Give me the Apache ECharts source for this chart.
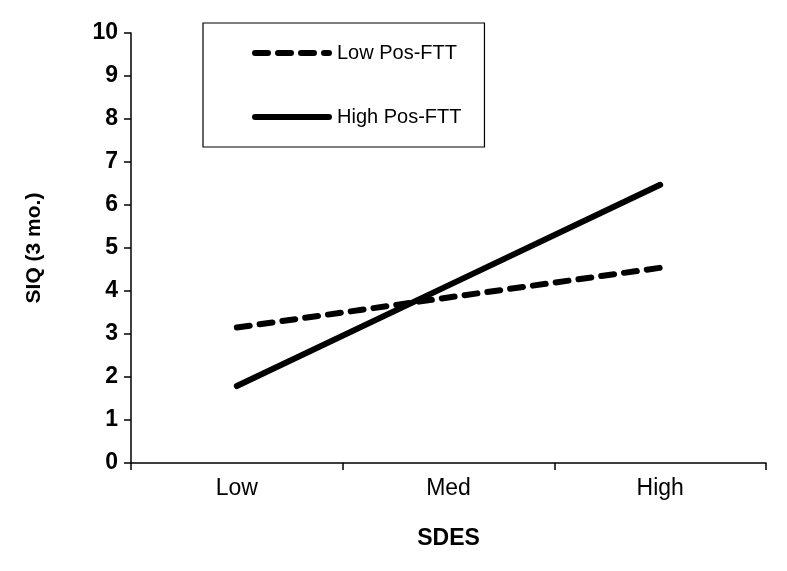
<!DOCTYPE html>
<html>
<head>
<meta charset="utf-8">
<script src="https://cdn.jsdelivr.net/npm/echarts@6/dist/echarts.min.js"></script>
<style>html,body{margin:0;padding:0;background:#fff}#c{width:787px;height:571px}</style>
</head>
<body>
<div id="c"></div>
<script>
const categories = ['Low', 'Med', 'High'];
const lowPosFTT = [3.15, 3.85, 4.54];
const highPosFTT = [1.79, 4.13, 6.47];
const yTicks = [0, 10, 1];
const seriesNames = ['Low Pos-FTT', 'High Pos-FTT'];

const FONT = '"Liberation Sans", Arial, sans-serif';
const dashType = [13, 10];
const chart = echarts.init(document.getElementById('c'), null, {renderer: 'canvas'});
chart.setOption({
  animation: false,
  backgroundColor: '#fff',
  grid: {left: 131, right: 21, top: 33, bottom: 108, containLabel: false},
  legend: {
    orient: 'vertical',
    left: 203, top: 23,
    padding: [20, 23, 20, 49],
    borderColor: '#000', borderWidth: 1.2,
    itemWidth: 74, itemHeight: 20, itemGap: 44,
    itemStyle: {opacity: 0},
    textStyle: {fontFamily: FONT, fontSize: 20, color: '#000', padding: [0, 0, 0, 3]},
    data: [
      {name: seriesNames[0], lineStyle: {width: 6, type: dashType, cap: 'round', color: '#000'}},
      {name: seriesNames[1], lineStyle: {width: 6, type: 'solid', cap: 'round', color: '#000'}}
    ]
  },
  xAxis: {
    type: 'category', data: categories, boundaryGap: true,
    name: 'SDES', nameLocation: 'middle', nameGap: 64,
    nameTextStyle: {fontFamily: FONT, fontSize: 23, fontWeight: 'bold', color: '#000'},
    axisLine: {lineStyle: {color: '#000', width: 1.5}},
    axisTick: {show: true, length: 7, lineStyle: {color: '#000', width: 1.5}},
    axisLabel: {fontFamily: FONT, fontSize: 23, color: '#000', margin: 14},
    splitLine: {show: false}
  },
  yAxis: {
    type: 'value', min: yTicks[0], max: yTicks[1], interval: yTicks[2],
    name: 'SIQ (3 mo.)', nameLocation: 'middle', nameGap: 86, nameRotate: 90,
    nameTextStyle: {fontFamily: FONT, fontSize: 21, fontWeight: 'bold', color: '#000'},
    axisLine: {show: true, lineStyle: {color: '#000', width: 1.5}},
    axisTick: {show: true, length: 7, lineStyle: {color: '#000', width: 1.5}},
    axisLabel: {fontFamily: FONT, fontSize: 23, fontWeight: 'bold', color: '#000', margin: 13},
    splitLine: {show: false}
  },
  series: [
    {name: seriesNames[0], type: 'line', data: lowPosFTT, symbol: 'none',
     lineStyle: {color: '#000', width: 6, type: dashType, cap: 'round'}, itemStyle: {color: '#000'}},
    {name: seriesNames[1], type: 'line', data: highPosFTT, symbol: 'none',
     lineStyle: {color: '#000', width: 6, type: 'solid', cap: 'round'}, itemStyle: {color: '#000'}}
  ]
});
</script>
</body>
</html>
